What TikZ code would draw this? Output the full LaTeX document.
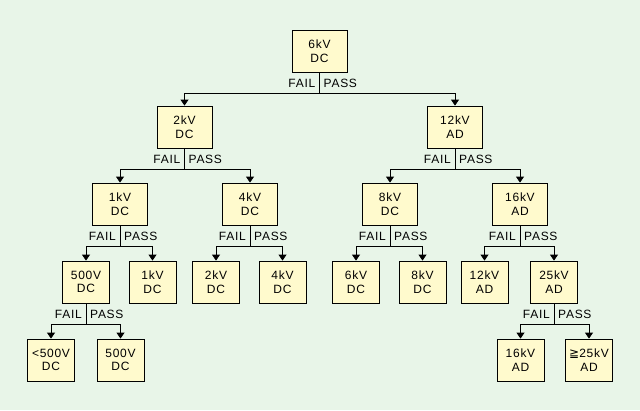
\documentclass[tikz,border=0pt]{standalone}
\usepackage{fontspec}
\setmainfont{Liberation Sans}
\newfontfamily\spacedfont[LetterSpace=6]{Liberation Sans}
\newfontfamily\symfont{DejaVu Sans}
\usetikzlibrary{arrows.meta}
\definecolor{bggreen}{RGB}{232,245,232}
\definecolor{boxyellow}{RGB}{255,250,205}

\begin{document}
\begin{tikzpicture}[x=1pt,y=-1pt,
  box/.style={draw,fill=boxyellow,line width=0.8pt,minimum width=55pt,minimum height=42pt,inner sep=0pt,align=center,font=\spacedfont\fontsize{12}{13.5}\selectfont},
  leaf/.style={box,minimum width=47pt},
  arrow/.style={-{Triangle[width=8pt,length=6pt]},line width=0.8pt},
  fail/.style={anchor=east,inner sep=0pt,font=\spacedfont\fontsize{12}{14}\selectfont},
  pass/.style={anchor=west,inner sep=0pt,font=\spacedfont\fontsize{12}{14}\selectfont}
]
  \fill[bggreen] (0,0) rectangle (640,410);
  \useasboundingbox (0,0) rectangle (640,410);

  % level 1 and 2
  \node[box] (v6k) at (319.5,51) {6kV\\DC};
  \node[box] (v2k) at (184.5,127) {2kV\\DC};
  \node[box] (v12k) at (455,127) {12kV\\AD};

  % level 3
  \node[box] (v1k) at (120,204) {1kV\\DC};
  \node[box] (v4k) at (250,204) {4kV\\DC};
  \node[box] (v8k) at (390,204) {8kV\\DC};
  \node[box] (v16k) at (520,204) {16kV\\AD};

  % level 4
  \node[leaf] (v500) at (86,282) {500V\\DC};
  \node[leaf] (r1k) at (152.5,282) {1kV\\DC};
  \node[leaf] (r2k) at (216,282) {2kV\\DC};
  \node[leaf] (r4k) at (282.5,282) {4kV\\DC};
  \node[leaf] (r6k) at (356,282) {6kV\\DC};
  \node[leaf] (r8k) at (422.5,282) {8kV\\DC};
  \node[leaf] (r12k) at (484.5,282) {12kV\\AD};
  \node[leaf] (v25k) at (554,282) {25kV\\AD};

  % level 5
  \node[leaf] (rlow) at (51,360) {<500V\\DC};
  \node[leaf] (r500) at (120.5,360) {500V\\DC};
  \node[leaf] (r16k) at (520.5,360) {16kV\\AD};
  \node[leaf] (rhigh) at (589,360) {{\symfont ≧}25kV\\AD};

  % branches
  \draw[arrow] (v6k.south) -- ++(0,21) -| (v2k.north);
  \draw[arrow] (v6k.south) -- ++(0,21) -| (v12k.north);
  \draw[arrow] (v2k.south) -- ++(0,21) -| (v1k.north);
  \draw[arrow] (v2k.south) -- ++(0,21) -| (v4k.north);
  \draw[arrow] (v12k.south) -- ++(0,21) -| (v8k.north);
  \draw[arrow] (v12k.south) -- ++(0,21) -| (v16k.north);
  \draw[arrow] (v1k.south) -- ++(0,21) -| (v500.north);
  \draw[arrow] (v1k.south) -- ++(0,21) -| (r1k.north);
  \draw[arrow] (v4k.south) -- ++(0,21) -| (r2k.north);
  \draw[arrow] (v4k.south) -- ++(0,21) -| (r4k.north);
  \draw[arrow] (v8k.south) -- ++(0,21) -| (r6k.north);
  \draw[arrow] (v8k.south) -- ++(0,21) -| (r8k.north);
  \draw[arrow] (v16k.south) -- ++(0,21) -| (r12k.north);
  \draw[arrow] (v16k.south) -- ++(0,21) -| (v25k.north);
  \draw[arrow] (v500.south) -- ++(0,21) -| (rlow.north);
  \draw[arrow] (v500.south) -- ++(0,21) -| (r500.north);
  \draw[arrow] (v25k.south) -- ++(0,21) -| (r16k.north);
  \draw[arrow] (v25k.south) -- ++(0,21) -| (rhigh.north);

  % FAIL / PASS labels
  \node[fail] (f6k) at ([xshift=-4pt,yshift=-10.5pt]v6k.south) {FAIL};
  \node[pass] (p6k) at ([xshift=4pt,yshift=-10.5pt]v6k.south) {PASS};
  \node[fail] (f2k) at ([xshift=-4pt,yshift=-10.5pt]v2k.south) {FAIL};
  \node[pass] (p2k) at ([xshift=4pt,yshift=-10.5pt]v2k.south) {PASS};
  \node[fail] (f12k) at ([xshift=-4pt,yshift=-10.5pt]v12k.south) {FAIL};
  \node[pass] (p12k) at ([xshift=4pt,yshift=-10.5pt]v12k.south) {PASS};
  \node[fail] (f1k) at ([xshift=-4pt,yshift=-10.5pt]v1k.south) {FAIL};
  \node[pass] (p1k) at ([xshift=4pt,yshift=-10.5pt]v1k.south) {PASS};
  \node[fail] (f4k) at ([xshift=-4pt,yshift=-10.5pt]v4k.south) {FAIL};
  \node[pass] (p4k) at ([xshift=4pt,yshift=-10.5pt]v4k.south) {PASS};
  \node[fail] (f8k) at ([xshift=-4pt,yshift=-10.5pt]v8k.south) {FAIL};
  \node[pass] (p8k) at ([xshift=4pt,yshift=-10.5pt]v8k.south) {PASS};
  \node[fail] (f16k) at ([xshift=-4pt,yshift=-10.5pt]v16k.south) {FAIL};
  \node[pass] (p16k) at ([xshift=4pt,yshift=-10.5pt]v16k.south) {PASS};
  \node[fail] (f500) at ([xshift=-4pt,yshift=-10.5pt]v500.south) {FAIL};
  \node[pass] (p500) at ([xshift=4pt,yshift=-10.5pt]v500.south) {PASS};
  \node[fail] (f25k) at ([xshift=-4pt,yshift=-10.5pt]v25k.south) {FAIL};
  \node[pass] (p25k) at ([xshift=4pt,yshift=-10.5pt]v25k.south) {PASS};
\end{tikzpicture}
\end{document}
